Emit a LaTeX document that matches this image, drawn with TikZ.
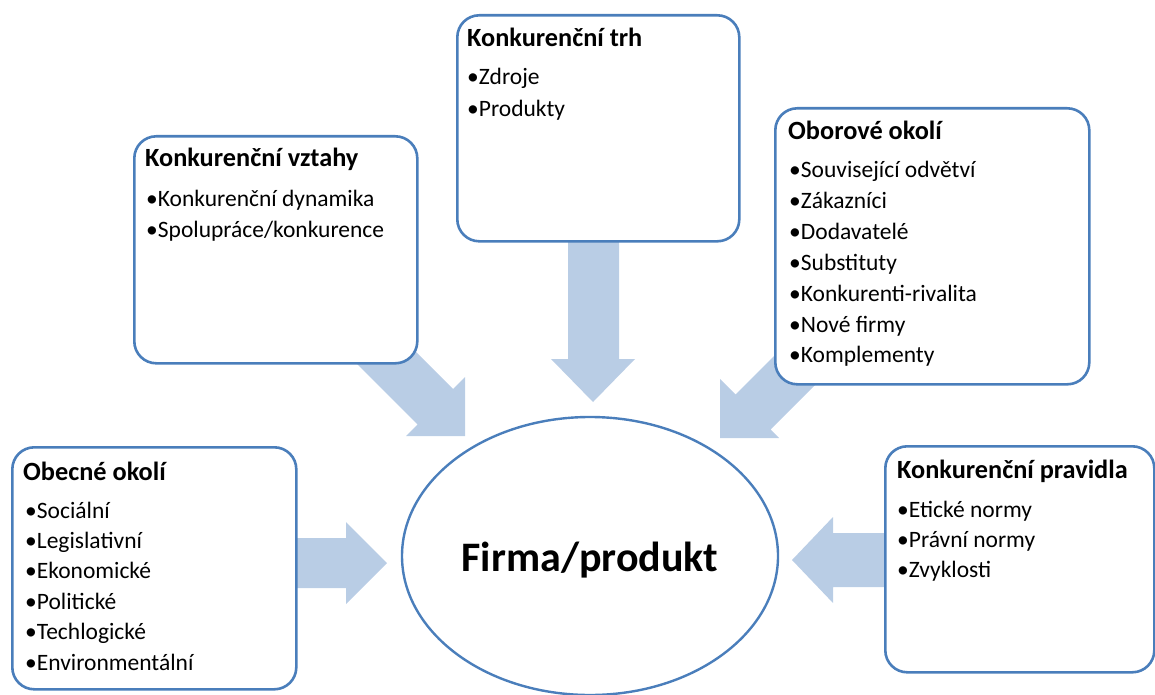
\documentclass[tikz,border=0pt]{standalone}
\usepackage{fontspec}
\setmainfont{Carlito}
\usetikzlibrary{shapes.geometric}
\definecolor{bord}{HTML}{4A7EBB}
\definecolor{arrowfill}{HTML}{B9CDE5}
\tikzset{
  panel/.style={draw=bord, line width=2.6pt, rounded corners=22pt, fill=white,
    inner sep=0pt, anchor=north west},
  blockarrow/.style={fill=arrowfill, draw=none},
  ttl/.style={anchor=base west, inner sep=0pt, font=\fontsize{26.3}{30}\selectfont\bfseries},
  itm/.style={anchor=base west, inner sep=0pt, font=\fontsize{23.5}{28}\selectfont},
  core/.style={draw=bord, line width=2.4pt, ellipse, inner sep=0pt,
    minimum width=376pt, minimum height=278pt},
  coretext/.style={anchor=base, inner sep=0pt, font=\fontsize{42}{48}\selectfont\bfseries}
}
\begin{document}
\begin{tikzpicture}[x=1pt, y=-1pt]
\useasboundingbox (0,0) rectangle (1155,695);

% block arrows pointing at the centre (drawn first, panels cover their tails)
\fill[blockarrow] (294,538) -- (346,538) -- (346,522) -- (387,563) -- (346,604)
  -- (346,588) -- (294,588) -- cycle;
\fill[blockarrow] (886,533) -- (833,533) -- (833,517) -- (792,560) -- (833,603)
  -- (833,587) -- (886,587) -- cycle;
\fill[blockarrow] (568,230) -- (619,230) -- (619,359) -- (635,359) -- (593,402)
  -- (551,359) -- (568,359) -- cycle;
\fill[blockarrow] (353,289) -- (453,389) -- (465,377) -- (465,436) -- (406,436)
  -- (417.5,424.5) -- (317.5,324.5) -- cycle;
\fill[blockarrow] (835.5,294.5) -- (735.5,394.5) -- (720,379) -- (720,438)
  -- (779,438) -- (770.5,429.5) -- (870.5,329.5) -- cycle;

% panels
\node[panel, minimum width=284pt, minimum height=242pt] (obecne) at (11,446) {};
\node[panel, minimum width=283pt, minimum height=227pt] (vztahy) at (133,135) {};
\node[panel, minimum width=282pt, minimum height=226pt] (trh) at (456,14) {};
\node[panel, minimum width=314pt, minimum height=276pt] (obor) at (774,107) {};
\node[panel, minimum width=269pt, minimum height=226pt] (pravidla) at (884,445) {};

% centre
\node[core] (firma) at (590,556) {};
\node[coretext] (firmatext) at (590,571) {Firma/produkt};

% panel contents
\node[ttl] (obecne-t) at (23,480) {Obecné okolí};
\foreach \t [count=\i from 0] in {Sociální, Legislativní, Ekonomické, Politické,
    Techlogické, Environmentální}
  \node[itm] (obecne-\i) at (25,518+\i*30.4) {•\t};

\node[ttl] (vztahy-t) at (145,167) {Konkurenční vztahy};
\foreach \t [count=\i from 0] in {Konkurenční dynamika, Spolupráce/konkurence}
  \node[itm] (vztahy-\i) at (146,206+\i*31.5) {•\t};

\node[ttl] (trh-t) at (467,47) {Konkurenční trh};
\foreach \t [count=\i from 0] in {Zdroje, Produkty}
  \node[itm] (trh-\i) at (467,85+\i*32) {•\t};

\node[ttl] (obor-t) at (788,140) {Oborové okolí};
\foreach \t [count=\i from 0] in {Související odvětví, Zákazníci, Dodavatelé,
    Substituty, Konkurenti-rivalita, Nové firmy, Komplementy}
  \node[itm] (obor-\i) at (789,178+\i*30.8) {•\t};

\node[ttl] (pravidla-t) at (897,478) {Konkurenční pravidla};
\foreach \t [count=\i from 0] in {Etické normy, Právní normy, Zvyklosti}
  \node[itm] (pravidla-\i) at (897,517+\i*30.2) {•\t};
\end{tikzpicture}
\end{document}
